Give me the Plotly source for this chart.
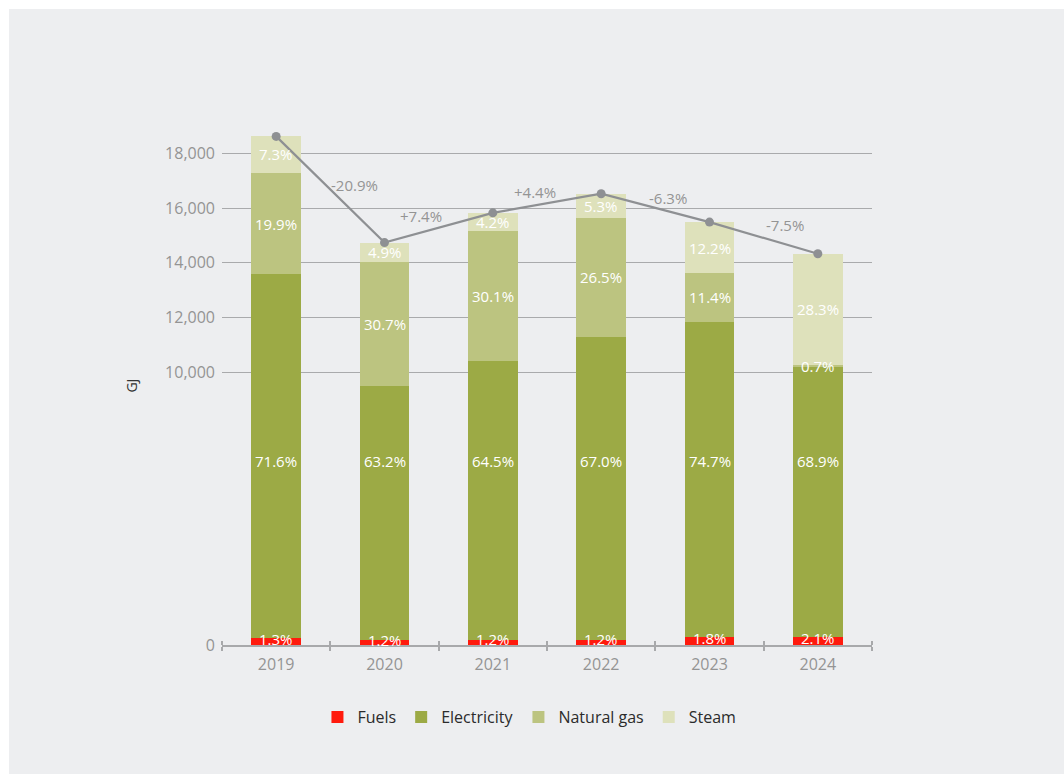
import plotly.graph_objects as go

# Energy consumption by source, 2019-2024
years = ["2019", "2020", "2021", "2022", "2023", "2024"]
totals_gj = [18630, 14740, 15830, 16530, 15490, 14330]

fuels_pct = [1.3, 1.2, 1.2, 1.2, 1.8, 2.1]
electricity_pct = [71.6, 63.2, 64.5, 67.0, 74.7, 68.9]
natural_gas_pct = [19.9, 30.7, 30.1, 26.5, 11.4, 0.7]
steam_pct = [7.3, 4.9, 4.2, 5.3, 12.2, 28.3]

y_ticks = [0, 10000, 12000, 14000, 16000, 18000]

FONT = "Open Sans"
GREY_TEXT = "#949494"
LINE_GREY = "#8E9093"
GRID_GREY = "#A9AAAC"
BG = "#EDEEF0"

series = [
    ("Fuels", fuels_pct, "#FF1A0D"),
    ("Electricity", electricity_pct, "#9CAA45"),
    ("Natural gas", natural_gas_pct, "#BCC480"),
    ("Steam", steam_pct, "#DEE1BB"),
]

idx = list(range(len(years)))
fig = go.Figure()
annotations = []

base = [0.0] * len(years)
for name, pcts, color in series:
    vals = [t * p / 100 for t, p in zip(totals_gj, pcts)]
    fig.add_trace(go.Bar(
        x=idx, y=vals, name=name, marker_color=color, marker_line_width=0,
        width=0.46, hoverinfo="skip",
    ))
    for i, (v, p) in enumerate(zip(vals, pcts)):
        if name == "Electricity":
            ypos, yshift = 6740, 0
        elif name == "Fuels":
            ypos, yshift = base[i] + v / 2, 3
        else:
            ypos, yshift = base[i] + v / 2, 0
        annotations.append(dict(
            x=i, y=ypos, xref="x", yref="y", text=f"{p:.1f}%", showarrow=False,
            yshift=yshift, font=dict(family=FONT, size=15, color="white"),
        ))
        base[i] += v

# Total consumption line, drawn on an overlaid axis so it sits above the bars
fig.add_trace(go.Scatter(
    x=idx, y=totals_gj, mode="lines+markers", xaxis="x2", showlegend=False,
    line=dict(color=LINE_GREY, width=2.2),
    marker=dict(color=LINE_GREY, size=9), hoverinfo="skip",
))

# Year-over-year change labels above the line
change_shift = [(24, 5), (-18, 12), (-12, 11.5), (13, 9.5), (21, 12.5)]
for i in range(1, len(totals_gj)):
    change = (totals_gj[i] / totals_gj[i - 1] - 1) * 100
    dx, dy = change_shift[i - 1]
    annotations.append(dict(
        x=i - 0.5, y=(totals_gj[i - 1] + totals_gj[i]) / 2, xref="x", yref="y",
        text=f"{change:+.1f}%", showarrow=False, xshift=dx, yshift=dy,
        font=dict(family=FONT, size=15, color=GREY_TEXT),
    ))

annotations.append(dict(
    x=-0.157, y=0.476, xref="paper", yref="paper", text="GJ", textangle=-90,
    showarrow=False, font=dict(family=FONT, size=14, color="#333333"),
))

bounds = [i - 0.5 for i in range(len(years) + 1)]

fig.update_layout(
    width=1064, height=774, autosize=False,
    margin=dict(l=222, r=192, t=99, b=129),
    paper_bgcolor="white", plot_bgcolor="rgba(0,0,0,0)",
    barmode="stack", bargap=0,
    font=dict(family=FONT, color=GREY_TEXT),
    annotations=annotations,
    shapes=[dict(
        type="rect", xref="paper", yref="paper", layer="below",
        x0=(9 - 222) / 650, x1=(1064 - 222) / 650,
        y0=(645 - 774) / 546, y1=(645 - 9) / 546,
        fillcolor=BG, line_width=0,
    )],
    xaxis=dict(
        range=[-0.5, 5.5], tickmode="array", tickvals=idx, ticktext=years,
        ticks="", showgrid=False, zeroline=False,
        showline=True, linecolor="#A8A9AB", linewidth=1.5,
        tickfont=dict(family=FONT, size=16, color=GREY_TEXT),
        ticklabelstandoff=4,
        minor=dict(tickmode="array", tickvals=bounds, ticks="outside",
                   ticklen=4, tickwidth=1.5, tickcolor="#A8A9AB", showgrid=False),
    ),
    xaxis2=dict(
        overlaying="x", matches="x", anchor="y", side="bottom",
        showticklabels=False, showgrid=False, zeroline=False, showline=False,
        ticks="",
        minor=dict(tickmode="array", tickvals=bounds, ticks="inside",
                   ticklen=4, tickwidth=1.5, tickcolor="#A8A9AB", showgrid=False),
    ),
    yaxis=dict(
        range=[0, 20000], tickmode="array", tickvals=y_ticks, tickformat=",",
        showgrid=True, gridcolor=GRID_GREY, gridwidth=1.2,
        zeroline=False, showline=False, ticks="", ticklabelstandoff=6,
        tickfont=dict(family=FONT, size=16, color=GREY_TEXT),
    ),
    legend=dict(
        orientation="h", x=0.473, xanchor="center", y=-0.132, yanchor="middle",
        font=dict(family=FONT, size=16, color="#2B2B2B"),
        bgcolor="rgba(0,0,0,0)", traceorder="normal", itemwidth=30,
    ),
)

fig.write_html("out.html")
